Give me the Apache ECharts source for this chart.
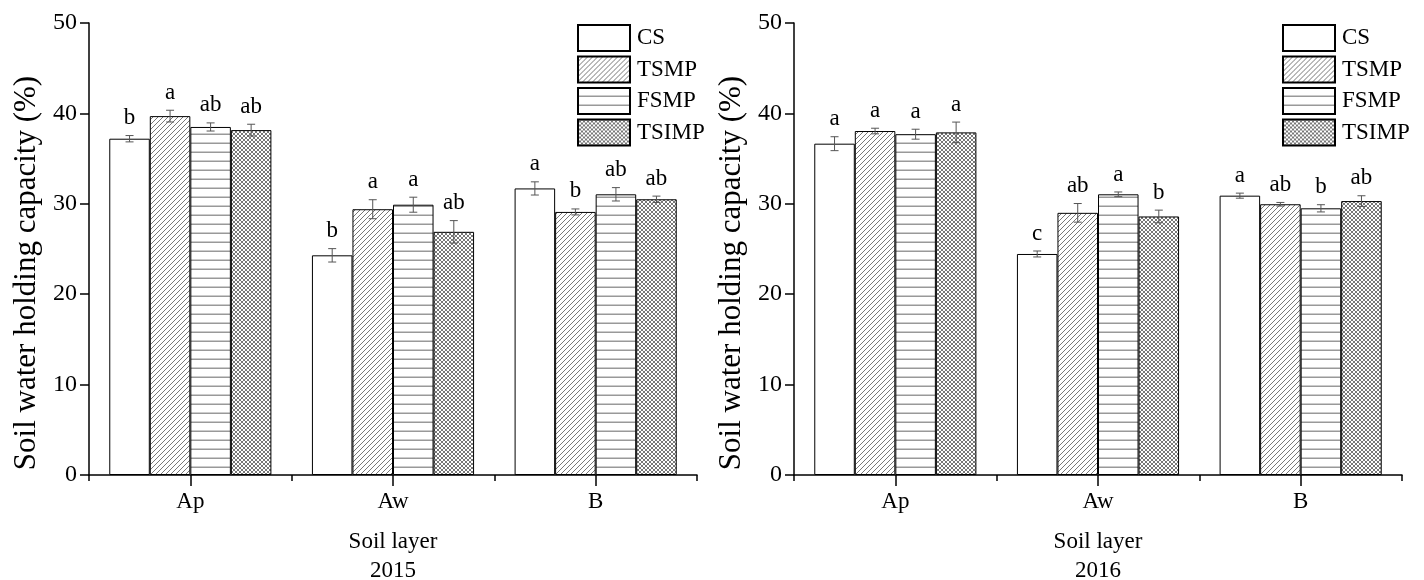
<!DOCTYPE html>
<html>
<head>
<meta charset="utf-8">
<script src="https://cdn.jsdelivr.net/npm/echarts@6/dist/echarts.min.js"></script>
<style>html,body{margin:0;padding:0;background:#fff;}#c{width:1424px;height:580px;}</style>
</head>
<body>
<div id="c"></div>
<script>
// ---- data ----
const categories = ['Ap', 'Aw', 'B'];
const treatments = ['CS', 'TSMP', 'FSMP', 'TSIMP'];
const years = ['2015', '2016'];
const yMin = 0, yMax = 50, yInterval = 10;

// 2015
const cs2015 = [37.2, 24.3, 31.7];
const tsmp2015 = [39.7, 29.4, 29.1];
const fsmp2015 = [38.5, 29.9, 31.05];
const tsimp2015 = [38.15, 26.9, 30.5];
const csErr2015 = [0.35, 0.74, 0.73];
const tsmpErr2015 = [0.65, 1.05, 0.33];
const fsmpErr2015 = [0.45, 0.83, 0.74];
const tsimpErr2015 = [0.65, 1.24, 0.35];
const csSig2015 = ['b', 'b', 'a'];
const tsmpSig2015 = ['a', 'a', 'b'];
const fsmpSig2015 = ['ab', 'a', 'ab'];
const tsimpSig2015 = ['ab', 'ab', 'ab'];

// 2016
const cs2016 = [36.65, 24.45, 30.9];
const tsmp2016 = [38.05, 29.0, 29.95];
const fsmp2016 = [37.7, 31.05, 29.5];
const tsimp2016 = [37.9, 28.6, 30.3];
const csErr2016 = [0.77, 0.33, 0.28];
const tsmpErr2016 = [0.31, 1.03, 0.2];
const fsmpErr2016 = [0.55, 0.26, 0.4];
const tsimpErr2016 = [1.14, 0.7, 0.59];
const csSig2016 = ['a', 'c', 'a'];
const tsmpSig2016 = ['a', 'ab', 'ab'];
const fsmpSig2016 = ['a', 'a', 'b'];
const tsimpSig2016 = ['a', 'b', 'ab'];

const values = [[cs2015, tsmp2015, fsmp2015, tsimp2015], [cs2016, tsmp2016, fsmp2016, tsimp2016]];
const errors = [[csErr2015, tsmpErr2015, fsmpErr2015, tsimpErr2015], [csErr2016, tsmpErr2016, fsmpErr2016, tsimpErr2016]];
const sigs = [[csSig2015, tsmpSig2015, fsmpSig2015, tsimpSig2015], [csSig2016, tsmpSig2016, fsmpSig2016, tsimpSig2016]];

// ---- patterns ----
const FONT = '"Liberation Serif", "Times New Roman", serif';
function makePattern(type) {
  const c = document.createElement('canvas');
  let w = 5, h = 5;
  if (type === 'horiz') { w = 4; h = 9; }
  if (type === 'cross') { w = 4; h = 4; }
  c.width = w; c.height = h;
  const g = c.getContext('2d');
  g.fillStyle = '#fff'; g.fillRect(0, 0, w, h);
  if (type === 'diag' || type === 'cross') {
    g.strokeStyle = '#555';
    g.lineWidth = 0.8;
    g.beginPath();
    for (const k of [-w, 0, w]) {
      g.moveTo(k, h); g.lineTo(k + w, 0);
      if (type === 'cross') { g.moveTo(k, 0); g.lineTo(k + w, h); }
    }
    g.stroke();
  } else if (type === 'horiz') {
    g.fillStyle = '#999'; g.fillRect(0, h - 1.5, w, 1.5);
  }
  return { image: c, repeat: 'repeat' };
}
const fills = ['#ffffff', makePattern('diag'), makePattern('horiz'), makePattern('cross')];

// ---- layout ----
const grids = [
  { left: 89, width: 608, top: 23, bottom: 105, outerBoundsMode: 'none', containLabel: false },
  { left: 794, width: 608, top: 23, bottom: 105, outerBoundsMode: 'none', containLabel: false }
];
const legendLeft = [577, 1282];

const xAxes = [], yAxes = [], series = [], legends = [];
years.forEach((yr, j) => {
  xAxes.push({
    type: 'category', gridIndex: j, data: categories, position: 'bottom',
    axisLine: { lineStyle: { color: '#000', width: 1.5 } },
    axisTick: { show: true, alignWithLabel: false, length: 6, lineStyle: { color: '#000', width: 1.5 } },
    axisLabel: { fontFamily: FONT, fontSize: 23, color: '#000', margin: 15 },
    name: 'Soil layer\n' + yr, nameLocation: 'middle', nameGap: 52,
    nameTextStyle: { fontFamily: FONT, fontSize: 23, color: '#000', lineHeight: 29 }
  });
  xAxes.push({
    type: 'category', gridIndex: j, data: categories, position: 'bottom',
    axisLine: { show: false },
    axisTick: { show: true, alignWithLabel: true, length: 11, lineStyle: { color: '#000', width: 1.5 } },
    axisLabel: { show: false }
  });
  yAxes.push({
    type: 'value', gridIndex: j, min: yMin, max: yMax, interval: yInterval,
    splitLine: { show: false },
    axisLine: { show: true, lineStyle: { color: '#000', width: 1.5 } },
    axisTick: { show: true, length: 9, lineStyle: { color: '#000', width: 1.5 } },
    axisLabel: { fontFamily: FONT, fontSize: 24, color: '#000', margin: 12 },
    name: 'Soil water holding capacity (%)', nameLocation: 'middle', nameGap: 47,
    nameTextStyle: { fontFamily: FONT, fontSize: 31, color: '#000', padding: [0, 48, 0, 0] }
  });
  legends.push({
    orient: 'vertical', left: legendLeft[j], top: 24, padding: 0,
    itemWidth: 52, itemHeight: 26, itemGap: 3.5, icon: 'rect',
    data: treatments, selectedMode: false,
    textStyle: { fontFamily: FONT, fontSize: 23, color: '#000', padding: [0, 0, 0, 2] }
  });
  treatments.forEach((t, i) => {
    series.push({
      type: 'bar', name: t, xAxisIndex: 2 * j, yAxisIndex: j,
      data: values[j][i], barGap: '0%', barCategoryGap: '20%',
      itemStyle: { color: fills[i], borderColor: '#000', borderWidth: 1 },
      emphasis: { disabled: true }, silent: true
    });
  });
  treatments.forEach((t, i) => {
    const data = categories.map((c, k) => [k, values[j][i][k], errors[j][i][k], sigs[j][i][k]]);
    series.push({
      type: 'custom', name: 'err-' + t, xAxisIndex: 2 * j, yAxisIndex: j,
      data: data, z: 5, silent: true,
      renderItem: (params, api) => {
        const k = api.value(0), m = api.value(1), e = api.value(2);
        const lab = data[params.dataIndex][3];
        const band = api.size([1, 0])[0];
        const bw = band * 0.8 / 4;
        const off = (i - 1.5) * bw;
        const pTop = api.coord([k, m + e]);
        const pBot = api.coord([k, m - e]);
        const x = pTop[0] + off;
        const cap = 4;
        const ls = { stroke: '#555', lineWidth: 1 };
        return {
          type: 'group',
          children: [
            { type: 'line', shape: { x1: x, y1: pTop[1], x2: x, y2: pBot[1] }, style: ls },
            { type: 'line', shape: { x1: x - cap, y1: pTop[1], x2: x + cap, y2: pTop[1] }, style: ls },
            { type: 'line', shape: { x1: x - cap, y1: pBot[1], x2: x + cap, y2: pBot[1] }, style: ls },
            { type: 'text', style: { text: lab, x: x, y: pTop[1] - 6, textAlign: 'center', textVerticalAlign: 'bottom',
              font: '23px ' + FONT, fill: '#000' } }
          ]
        };
      }
    });
  });
});

const chart = echarts.init(document.getElementById('c'), null, { renderer: 'canvas' });
chart.setOption({
  animation: false,
  backgroundColor: '#fff',
  grid: grids,
  xAxis: xAxes,
  yAxis: yAxes,
  legend: legends,
  series: series
});
</script>
</body>
</html>
